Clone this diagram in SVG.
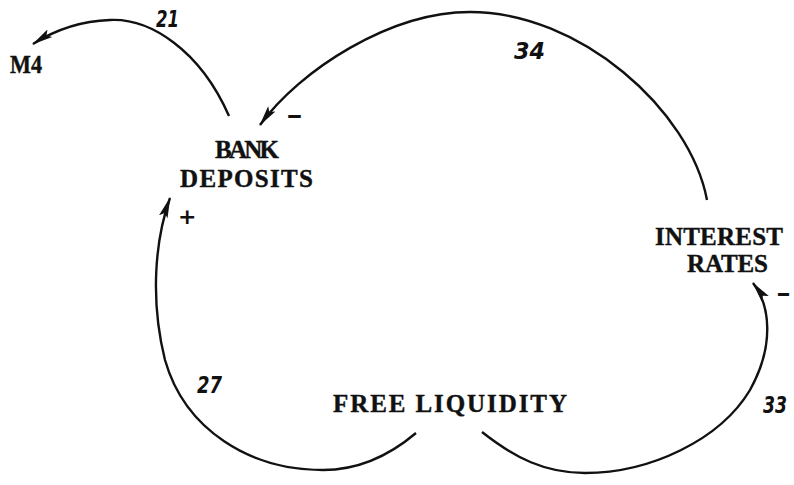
<svg xmlns="http://www.w3.org/2000/svg" width="794" height="485" viewBox="0 0 794 485">
<defs>
<style>
.node{font-family:"Liberation Serif","Times New Roman",serif;font-weight:bold;font-size:25px;fill:#111;stroke:#111;stroke-width:0.4}
.num{font-family:"DejaVu Sans","Liberation Sans",sans-serif;font-weight:bold;font-style:italic;font-size:23px;fill:#111}
.sign{font-family:"DejaVu Sans","Liberation Sans",sans-serif;font-weight:bold;font-size:22px;fill:#111}
.link{fill:none;stroke:#111;stroke-width:2.4;marker-end:url(#ah)}
</style>
<marker id="ah" markerUnits="userSpaceOnUse" markerWidth="24" markerHeight="14" refX="20" refY="6" orient="auto">
<path d="M0,1.5 L21,6 L0,10.5 L4,6 Z" fill="#111"/>
</marker>
</defs>
<rect width="794" height="485" fill="#fff"/>
<g id="connectors">
<path class="link" d="M229,116 C200,50 150,18 110,20 C80,21 55,30 33,44"/>
<path class="link" d="M707,200 C690,110 580,12 470,12 C390,12 300,70 260,125"/>
<path class="link" d="M416,433 C390,455 360,470 323,470 C250,470 185,430 165,360 C150,300 155,240 170,198"/>
<path class="link" d="M482,432 C515,458 545,473 585,473 C650,473 720,440 750,390 C775,345 770,305 753,283"/>
</g>
<g id="labels">
<text class="num" x="156" y="27" textLength="23" lengthAdjust="spacingAndGlyphs">21</text>
<text class="num" x="514" y="59" textLength="31" lengthAdjust="spacingAndGlyphs">34</text>
<text class="num" x="197" y="393" textLength="25" lengthAdjust="spacingAndGlyphs">27</text>
<text class="num" x="763" y="413" textLength="24" lengthAdjust="spacingAndGlyphs">33</text>
<text class="sign" x="286" y="123" textLength="17" lengthAdjust="spacingAndGlyphs">-</text>
<text class="sign" x="178" y="224">+</text>
<text class="sign" x="776" y="301" textLength="15" lengthAdjust="spacingAndGlyphs">-</text>
</g>
<g id="m4"><text class="node" x="10" y="73" font-size="19" textLength="32" lengthAdjust="spacingAndGlyphs">M4</text></g>
<g id="bank-deposits">
<text class="node" x="215" y="158" textLength="64" lengthAdjust="spacing">BANK</text>
<text class="node" x="180" y="187" textLength="133" lengthAdjust="spacing">DEPOSITS</text>
</g>
<g id="interest-rates">
<text class="node" x="655" y="245" textLength="128" lengthAdjust="spacing">INTEREST</text>
<text class="node" x="687" y="272" textLength="81" lengthAdjust="spacing">RATES</text>
</g>
<g id="free-liquidity">
<text class="node" x="333" y="412" textLength="234" lengthAdjust="spacing">FREE LIQUIDITY</text>
</g>
</svg>
